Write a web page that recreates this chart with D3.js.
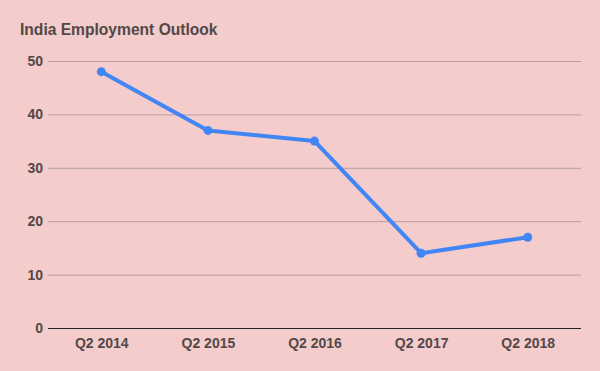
<!DOCTYPE html>
<html>
<head>
<meta charset="utf-8">
<script src="https://cdn.jsdelivr.net/npm/d3@7"></script>
<style>
  body { margin: 0; background: #f4cccc; }
  svg { display: block; font-family: Arial, "Liberation Sans", sans-serif; }
</style>
</head>
<body>
<svg id="chart"></svg>
<script>
// chart data
var quarters = ["Q2 2014", "Q2 2015", "Q2 2016", "Q2 2017", "Q2 2018"];
var outlook = [48, 37, 35, 14, 17];
var yTicks = [0, 10, 20, 30, 40, 50];

var width = 600,
    height = 371;

var margin = { top: 61, right: 19, bottom: 43, left: 48 };

var svg = d3.select("#chart")
    .attr("width", width)
    .attr("height", height);

svg.append("rect")
    .attr("width", width)
    .attr("height", height)
    .attr("fill", "#f4cccc");

var innerW = width - margin.left - margin.right,
    innerH = height - margin.top - margin.bottom;

var xScale = d3.scalePoint().domain(quarters).range([0, innerW]).padding(0.5),
    yScale = d3.scaleLinear().domain([0, 50]).range([innerH, 0]);

var g = svg.append("g")
    .attr("transform", "translate(" + margin.left + "," + margin.top + ")");

// title
svg.append("text")
    .attr("x", 20)
    .attr("y", 35)
    .attr("fill", "#524848")
    .attr("font-size", 15.6)
    .attr("font-weight", "bold")
    .text("India Employment Outlook");

// gridlines + y labels
var yAxis = g.append("g")
    .call(d3.axisLeft(yScale).tickValues(yTicks).tickSize(-innerW).tickPadding(5));
yAxis.select(".domain").remove();
yAxis.selectAll(".tick line")
    .attr("stroke", function (d) { return d === 0 ? "#222" : "#b59f9f"; })
    .attr("stroke-width", 1);
yAxis.selectAll(".tick text")
    .attr("fill", "#524848")
    .attr("font-size", 14)
    .attr("font-weight", "bold")
    .attr("font-family", "Arial, 'Liberation Sans', sans-serif");

// x labels
var xAxis = g.append("g")
    .attr("transform", "translate(0," + innerH + ")")
    .call(d3.axisBottom(xScale).tickSize(0).tickPadding(10));
xAxis.select(".domain").remove();
xAxis.selectAll(".tick text")
    .attr("fill", "#524848")
    .attr("font-size", 14)
    .attr("font-weight", "bold")
    .attr("font-family", "Arial, 'Liberation Sans', sans-serif");

// line
var line = d3.line()
    .x(function (d, i) { return xScale(quarters[i]); })
    .y(function (d) { return yScale(d); });

g.append("path")
    .datum(outlook)
    .attr("fill", "none")
    .attr("stroke", "#4285f4")
    .attr("stroke-width", 4)
    .attr("stroke-linejoin", "round")
    .attr("d", line);

g.selectAll(".dot")
    .data(outlook)
    .enter()
    .append("circle")
    .attr("class", "dot")
    .attr("cx", function (d, i) { return xScale(quarters[i]); })
    .attr("cy", function (d) { return yScale(d); })
    .attr("r", 4.5)
    .attr("fill", "#4285f4");
</script>
</body>
</html>
